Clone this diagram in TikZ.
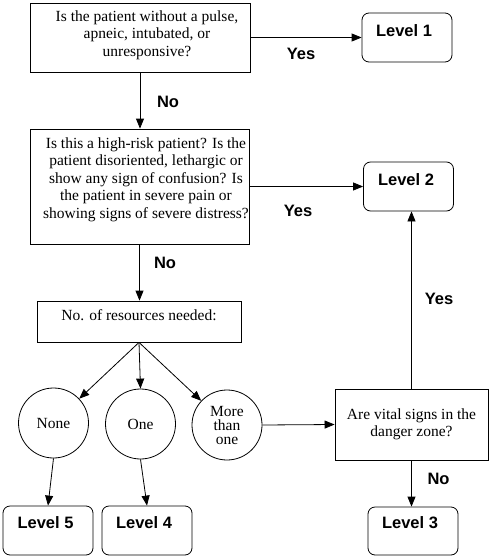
\documentclass[tikz,border=0pt]{standalone}
\usepackage{fontspec}
\setmainfont{Liberation Serif}
\newfontfamily\lsans{Liberation Sans}
\usetikzlibrary{arrows.meta}
\begin{document}
\begin{tikzpicture}[x=1pt,y=-1pt,
  qbox/.style={draw, line width=0.8pt, inner sep=0pt, rectangle},
  qtext/.style={font=\fontsize{15.5}{17.5}\selectfont, align=center, inner sep=0pt},
  lvl/.style={draw, rounded corners=7pt, line width=0.8pt, minimum width=90pt, minimum height=49pt, inner sep=0pt},
  lvltext/.style={font=\lsans\bfseries\fontsize{16.5}{18}\selectfont, anchor=base, inner sep=0pt},
  lab/.style={font=\lsans\bfseries\fontsize{16.5}{18}\selectfont, inner sep=0pt},
  circ/.style={draw, circle, minimum size=70pt, line width=0.8pt, inner sep=0pt, align=center, font=\fontsize{15.5}{14}\selectfont},
  arr/.style={-{Triangle[length=10pt,width=8pt]}, line width=0.8pt}]
\useasboundingbox (0,0) rectangle (489,557);

% question 1 and level 1
\node[qbox, minimum width=220pt, minimum height=69pt] (q1) at (140,37.5) {};
\node[qtext] (q1t) at (147,35) {Is the patient without a pulse,\\apneic, intubated, or\\unresponsive?};
\node[lvl] (l1) at (407,37.5) {};
\node[lvltext] (l1t) at (404,36) {Level 1};

% question 2 and level 2
\node[qbox, minimum width=219pt, minimum height=115pt] (q2) at (139.5,186.5) {};
\node[qtext] (q2t) at (146,179.5) {Is this a high-risk patient? Is the\\patient disoriented, lethargic or\\show any sign of confusion? Is\\the patient in severe pain or\\showing signs of severe distress?};
\node[lvl] (l2) at (408.5,186.5) {};
\node[lvltext] (l2t) at (406,185) {Level 2};

% resources
\node[qbox, minimum width=204pt, minimum height=41pt] (q3) at (139,321.5) {};
\node[qtext, anchor=base] (q3t) at (139,320) {No. of resources needed:};

\node[circ] (none) at (53.5,423) {None};
\node[circ] (one) at (140.5,424) {One};
\node[circ] (more) at (227,425) {More\\than\\one};

% question 4
\node[qbox, qtext, minimum width=153pt, minimum height=71pt] (q4) at (411.5,424.5) {Are vital signs in the\\danger zone?};

% bottom levels
\node[lvl, minimum height=48pt] (l3) at (413,531) {};
\node[lvltext] (l3t) at (410,528) {Level 3};
\node[lvl] (l5) at (48,530.5) {};
\node[lvltext] (l5t) at (45.5,528) {Level 5};
\node[lvl] (l4) at (147,530.5) {};
\node[lvltext] (l4t) at (144,528) {Level 4};

% connectors
\draw[arr] (q1.east) -- (l1.west);
\draw[arr] (q1.south) -- (q1.south |- q2.north);
\draw[arr] (q2.east) -- (l2.west);
\draw[arr] (q2.south) -- (q2.south |- q3.north);
\draw[arr] (q3.south) -- (none);
\draw[arr] (q3.south) -- (one.north);
\draw[arr] (q3.south) -- (more);
\draw[arr] (more.east) -- (q4.west);
\draw[arr] (q4.north) -- (q4.north |- l2.south);
\draw[arr] (q4.south) -- (q4.south |- l3.north);
\draw[arr] (none.south) -- (l5.north);
\draw[arr] (one.south) -- (l4.north);

% labels
\node[lab] (y1) at (301,53.5) {Yes};
\node[lab] (n1) at (168,101.5) {No};
\node[lab] (y2) at (298,211) {Yes};
\node[lab] (n2) at (165,262.5) {No};
\node[lab] (y3) at (439,299) {Yes};
\node[lab] (n3) at (438.5,479) {No};
\end{tikzpicture}
\end{document}
